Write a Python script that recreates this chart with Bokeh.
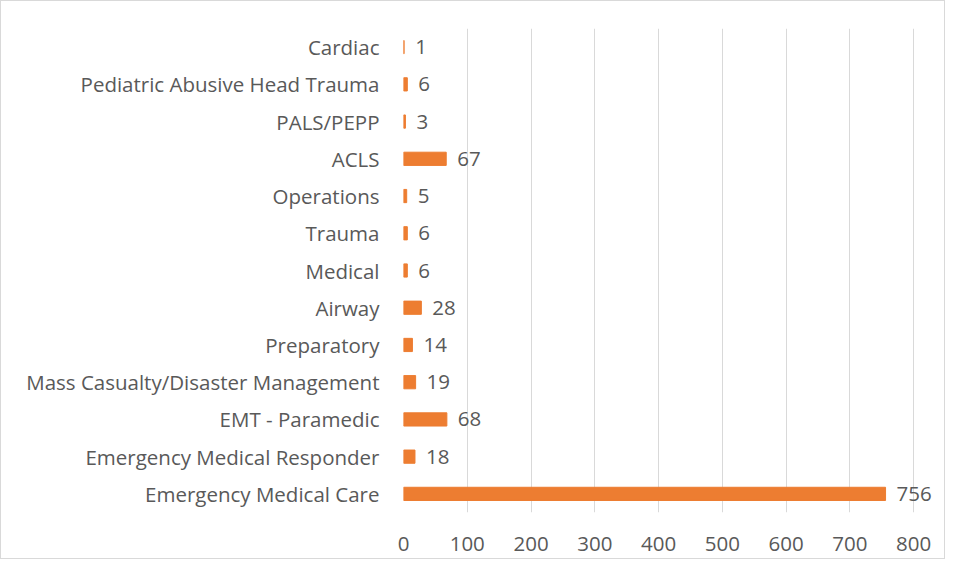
from bokeh.plotting import figure
from bokeh.models import ColumnDataSource, FactorRange, LabelSet, FixedTicker
from bokeh.core.properties import value
from bokeh.embed import file_html
from bokeh.resources import INLINE

categories = ["Emergency Medical Care", "Emergency Medical Responder", "EMT - Paramedic",
              "Mass Casualty/Disaster Management", "Preparatory", "Airway", "Medical",
              "Trauma", "Operations", "ACLS", "PALS/PEPP", "Pediatric Abusive Head Trauma",
              "Cardiac"]
values = [756, 18, 68, 19, 14, 28, 6, 6, 5, 67, 3, 6, 1]
x_ticks = [0, 100, 200, 300, 400, 500, 600, 700, 800]

src = ColumnDataSource(dict(cat=categories, val=values, lab=[str(v) for v in values]))

FONT = "Open Sans"
TXT = "#595959"
FS = "20.5px"

p = figure(width=945, height=559, y_range=FactorRange(*categories, range_padding=0),
           x_range=(0, 850), output_backend="svg", toolbar_location=None,
           min_border_left=402, min_border_right=1, min_border_top=27, min_border_bottom=48)
p.styles = {"border": "1px solid #d9d9d9"}
p.y_range.range_padding = 0
p.hbar(y="cat", right="val", left=0, height=0.355, source=src, color="#ED7D31")

labels = LabelSet(x="val", y="cat", text="lab", source=src, x_offset=11,
                  text_baseline="middle", text_align="left", text_color=TXT,
                  text_font=value(FONT), text_font_size=value(FS))
p.add_layout(labels)

p.outline_line_color = None
p.ygrid.grid_line_color = None
p.xgrid.grid_line_color = "#d9d9d9"
p.xgrid.grid_line_width = 1
p.xaxis.ticker = FixedTicker(ticks=x_ticks)
for ax in (p.xaxis[0], p.yaxis[0]):
    ax.axis_line_color = None
    ax.major_tick_line_color = None
    ax.minor_tick_line_color = None
    ax.major_label_text_color = TXT
    ax.major_label_text_font = FONT
    ax.major_label_text_font_size = FS
p.xaxis.major_label_standoff = 18
p.yaxis.major_label_standoff = 18

open("out.html", "w").write(file_html(p, INLINE))
